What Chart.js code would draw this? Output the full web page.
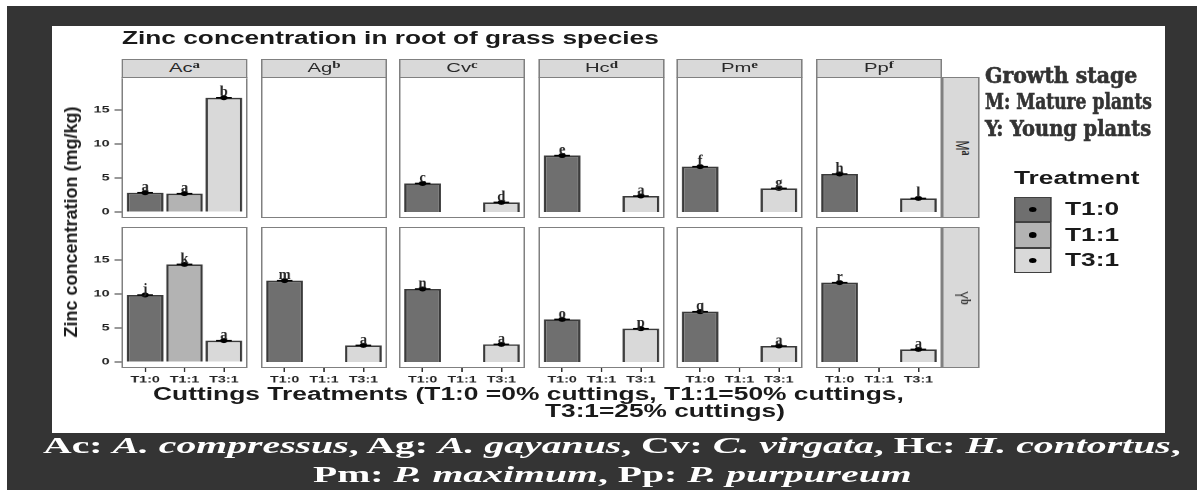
<!DOCTYPE html>
<html>
<head>
<meta charset="utf-8">
<title>Zinc concentration in root of grass species</title>
<script src="https://cdn.jsdelivr.net/npm/chart.js@4.4.1/dist/chart.umd.min.js"></script>
<style>
  html, body { margin:0; padding:0; background:#fff; }
  body { width:1197px; height:490px; position:relative; overflow:hidden; font-family:"Liberation Sans", Arial, sans-serif; }
  #frame { position:absolute; left:7px; top:6px; width:1190px; height:484px; background:#343434; }
  #paper { position:absolute; left:52px; top:26px; width:1113px; height:407px; background:#fff; }
  #fig { position:absolute; left:0; top:0; width:798px; height:490px; transform:scaleX(1.5); transform-origin:0 0; }
  .t { position:absolute; white-space:nowrap; line-height:1; }
  .b { font-weight:bold; color:#1a1a1a; }
  .strip { position:absolute; box-sizing:border-box; background:#d9d9d9; border:1px solid #808080; text-align:center; color:#2a2a2a; font-size:13.5px; line-height:16px; white-space:nowrap; }
  .strip sup, .rstrip sup { font-family:"Liberation Serif", serif; font-weight:bold; font-size:10px; vertical-align:0; position:relative; top:-4px; line-height:0; }
  .rstrip { position:absolute; box-sizing:border-box; background:#d9d9d9; border:1px solid #808080; color:#2a2a2a; font-size:12px; }
  .rstrip span { position:absolute; left:50%; top:50%; transform:translate(-50%,-50%) rotate(90deg); white-space:nowrap; line-height:1; }
  .key { position:absolute; box-sizing:border-box; border:1.5px solid #404040; }
  .key i { position:absolute; left:50%; top:50%; width:5.5px; height:5.5px; margin:-2.75px 0 0 -2.75px; border-radius:50%; background:#000; }
  .cap { color:#fff; font-family:"Liberation Serif","Times New Roman",serif; font-weight:bold; }
  .gs { color:#333; font-family:"DejaVu Serif Condensed","DejaVu Serif",serif; font-stretch:condensed; font-weight:bold; -webkit-text-stroke:0.6px #333; }
  canvas { position:absolute; }
</style>
</head>
<body>
<div id="frame"></div>
<div id="paper"></div>
<div id="fig"></div>
<script>
// ---------------- data ----------------
const SPECIES      = ['Ac', 'Ag', 'Cv', 'Hc', 'Pm', 'Pp'];
const SPECIES_SUP  = ['a', 'b', 'c', 'd', 'e', 'f'];
const STAGES       = ['M', 'Y'];
const STAGE_SUP    = ['a', 'b'];
const TREATMENTS   = ['T1:0', 'T1:1', 'T3:1'];
const Y_TICKS      = [0, 5, 10, 15];

// Zinc concentration (mg/kg), one value per species
const MATURE_T10 = [2.84, null, 4.2, 8.3, 6.67, 5.59];
const MATURE_T11 = [2.7, null, null, null, null, null];
const MATURE_T31 = [16.8, null, 1.42, 2.35, 3.48, 2.0];
const YOUNG_T10  = [9.85, 11.96, 10.74, 6.27, 7.4, 11.67];
const YOUNG_T11  = [14.36, null, null, null, null, null];
const YOUNG_T31  = [3.14, 2.45, 2.6, 4.9, 2.35, 1.86];

// significance letters
const MATURE_LET_T10 = ['a', '', 'c', 'e', 'f', 'h'];
const MATURE_LET_T11 = ['a', '', '', '', '', ''];
const MATURE_LET_T31 = ['b', '', 'd', 'a', 'g', 'l'];
const YOUNG_LET_T10  = ['j', 'm', 'n', 'o', 'q', 'r'];
const YOUNG_LET_T11  = ['k', '', '', '', '', ''];
const YOUNG_LET_T31  = ['a', 'a', 'a', 'p', 'a', 'a'];

const TITLE   = 'Zinc concentration in root of grass species';
const Y_TITLE = 'Zinc concentration (mg/kg)';
const X_TITLE_1 = 'Cuttings Treatments (T1:0 =0% cuttings, T1:1=50% cuttings,';
const X_TITLE_2 = 'T3:1=25% cuttings)';
const LEGEND_TITLE = 'Treatment';
const GROWTH_LINES = ['Growth stage', 'M: Mature plants', 'Y: Young plants'];
const CAPTION_1 = 'Ac: <i>A. compressus</i>, Ag: <i>A. gayanus</i>, Cv: <i>C. virgata</i>, Hc: <i>H. contortus</i>,';
const CAPTION_2 = 'Pm: <i>P. maximum</i>, Pp: <i>P. purpureum</i>';

// ---------------- styles / layout ----------------
const FILLS = ['#6f6f6f', '#b3b3b3', '#d9d9d9'];
const S = 1.5;                       // horizontal stretch of the figure
const AXW = 26, AXH = 22;            // axis room (css px inside figure)
const PANEL_X0 = 122, PANEL_STEP = 138.7, PANEL_W = 84;
const ROW_TOP = [77, 227], PANEL_H = 141;
const Y_MIN = -0.88, Y_MAX = 19.85;

Chart.defaults.font.family = '"Liberation Sans", Arial, sans-serif';

const fig = document.getElementById('fig');
const rowsVals = [[MATURE_T10, MATURE_T11, MATURE_T31], [YOUNG_T10, YOUNG_T11, YOUNG_T31]];
const rowsLets = [[MATURE_LET_T10, MATURE_LET_T11, MATURE_LET_T31], [YOUNG_LET_T10, YOUNG_LET_T11, YOUNG_LET_T31]];

function panelLeft(c) { return Math.round((PANEL_X0 + PANEL_STEP * c) / S); }

function makePanelPlugin(vals, lets) {
  return {
    id: 'panelDecor',
    afterDatasetsDraw(chart) {
      const ctx = chart.ctx, xs = chart.scales.x, ys = chart.scales.y;
      vals.forEach((v, i) => {
        if (v == null || !lets[i]) return;
        const px = xs.getPixelForValue(i), py = ys.getPixelForValue(v);
        ctx.save();
        ctx.translate(px, py - 1.5);
        ctx.scale(1 / S, 1);
        ctx.font = 'bold 14.5px "Liberation Serif", serif';
        ctx.fillStyle = '#262626';
        ctx.textAlign = 'center';
        ctx.textBaseline = 'alphabetic';
        ctx.fillText(lets[i], 0, 0);
        ctx.restore();
      });
    },
    afterDraw(chart) {
      const a = chart.chartArea, ctx = chart.ctx;
      ctx.save();
      ctx.strokeStyle = '#808080';
      ctx.lineWidth = 1;
      ctx.strokeRect(a.left + 0.5, a.top + 0.5, a.right - a.left - 1, a.bottom - a.top - 1);
      ctx.restore();
    }
  };
}

for (let r = 0; r < 2; r++) {
  for (let c = 0; c < SPECIES.length; c++) {
    const vals = rowsVals[r].map(arr => arr[c]);
    const lets = rowsLets[r].map(arr => arr[c]);
    const pts = vals.map((v, i) => ({ x: i, y: v }));
    const left = panelLeft(c) - (c === 0 ? AXW : 0);
    const w = PANEL_W + (c === 0 ? AXW : 0);
    const h = PANEL_H + (r === 1 ? AXH : 0);
    const cv = document.createElement('canvas');
    cv.width = w; cv.height = h;
    cv.style.left = left + 'px'; cv.style.top = ROW_TOP[r] + 'px';
    fig.appendChild(cv);
    new Chart(cv, {
      type: 'bar',
      data: {
        datasets: [
          { type: 'bar', data: pts, backgroundColor: FILLS, borderColor: '#3a3a3a', borderWidth: 1.6,
            barPercentage: 0.93, categoryPercentage: 1, order: 3 },
          { type: 'scatter', data: pts, pointStyle: 'line', radius: 5.2, borderColor: '#000',
            borderWidth: 1.5, order: 2 },
          { type: 'scatter', data: pts, pointStyle: 'circle', radius: 2.5, backgroundColor: '#000',
            borderColor: '#000', borderWidth: 0, order: 1 }
        ]
      },
      options: {
        responsive: false, animation: false, devicePixelRatio: 2, events: [],
        layout: { padding: 0, autoPadding: false },
        plugins: { legend: { display: false }, tooltip: { enabled: false } },
        scales: {
          x: {
            type: 'linear', min: -0.6, max: 2.6, offset: false, display: r === 1,
            afterBuildTicks: s => { s.ticks = TREATMENTS.map((_, i) => ({ value: i })); },
            afterFit: s => { s.height = r === 1 ? AXH : 0; s.paddingLeft = s.paddingRight = s.paddingTop = s.paddingBottom = 0; },
            ticks: { callback: v => TREATMENTS[v], font: { size: 9.5, weight: 'bold' }, color: '#222',
                     padding: 2, maxRotation: 0, minRotation: 0, autoSkip: false },
            grid: { display: true, drawOnChartArea: false, drawTicks: true, tickLength: 4, color: '#333', offset: false },
            border: { display: false }
          },
          y: {
            type: 'linear', min: Y_MIN, max: Y_MAX, display: c === 0,
            afterBuildTicks: s => { s.ticks = Y_TICKS.map(v => ({ value: v })); },
            afterFit: s => { s.width = c === 0 ? AXW : 0; s.paddingLeft = s.paddingRight = s.paddingTop = s.paddingBottom = 0; },
            ticks: { font: { size: 9.5, weight: 'bold' }, color: '#222', padding: 3.3 },
            grid: { display: true, drawOnChartArea: false, drawTicks: true, tickLength: 4.7, color: '#333' },
            border: { display: false }
          }
        }
      },
      plugins: [makePanelPlugin(vals, lets)]
    });
  }
}

// ---------------- text helpers ----------------
function addText(parent, html, cls, left, baseline, fs, fitW) {
  const el = document.createElement('div');
  el.className = 't ' + (cls || '');
  el.innerHTML = html;
  el.style.fontSize = fs + 'px';
  el.style.left = left + 'px';
  el.style.top = (baseline - 0.845 * fs) + 'px';
  parent.appendChild(el);
  if (fitW) {
    const wNat = el.offsetWidth;
    el.style.transformOrigin = '0 0';
    el.style.transform = 'scaleX(' + (fitW / wNat) + ')';
  }
  return el;
}

// strips (top)
SPECIES.forEach((sp, c) => {
  const d = document.createElement('div');
  d.className = 'strip';
  d.style.left = panelLeft(c) + 'px';
  d.style.top = '59px';
  d.style.width = PANEL_W + 'px';
  d.style.height = '19px';
  d.innerHTML = sp + '<sup>' + SPECIES_SUP[c] + '</sup>';
  fig.appendChild(d);
});
// strips (right)
STAGES.forEach((st, r) => {
  const d = document.createElement('div');
  d.className = 'rstrip';
  d.style.left = (panelLeft(SPECIES.length - 1) + PANEL_W) + 'px';
  d.style.top = ROW_TOP[r] + 'px';
  d.style.width = Math.round(37 / S) + 'px';
  d.style.height = PANEL_H + 'px';
  d.innerHTML = '<span>' + st + '<sup>' + STAGE_SUP[r] + '</sup></span>';
  fig.appendChild(d);
});

// titles inside the stretched figure
addText(fig, TITLE, 'b', 122 / S, 45, 17.5);
addText(fig, X_TITLE_1, 'b', 153 / S, 401, 17.5, 751 / S);
addText(fig, X_TITLE_2, 'b', 545 / S, 418, 17.5);

// legend
addText(fig, LEGEND_TITLE, 'b', 1014 / S, 185, 17.5);
TREATMENTS.forEach((tr, i) => {
  const top = 197 + i * 25.4;
  const k = document.createElement('div');
  k.className = 'key';
  k.style.left = (1014 / S) + 'px';
  k.style.top = top + 'px';
  k.style.width = (37 / S) + 'px';
  k.style.height = '25.4px';
  k.style.background = FILLS[i];
  k.innerHTML = '<i></i>';
  fig.appendChild(k);
  addText(fig, tr, 'b', 1065 / S, top + 12.7 + 6.3, 17.5);
});

// unstretched overlay texts
const yt = document.createElement('div');
yt.className = 't b';
yt.textContent = Y_TITLE;
yt.style.fontSize = '18px';
yt.style.left = '70.5px';
yt.style.top = '221.5px';
yt.style.transform = 'translate(-50%,-50%) rotate(-90deg)';
document.body.appendChild(yt);

const GS_BASE = [82, 108, 135], GS_W = [152, 167, 166];
GROWTH_LINES.forEach((tx, i) => addText(document.body, tx, 'gs', 985, GS_BASE[i], 23, GS_W[i]));

addText(document.body, CAPTION_1, 'cap', 43, 453, 23, 1138);
addText(document.body, CAPTION_2, 'cap', 313, 482, 23, 599);
</script>
</body>
</html>
